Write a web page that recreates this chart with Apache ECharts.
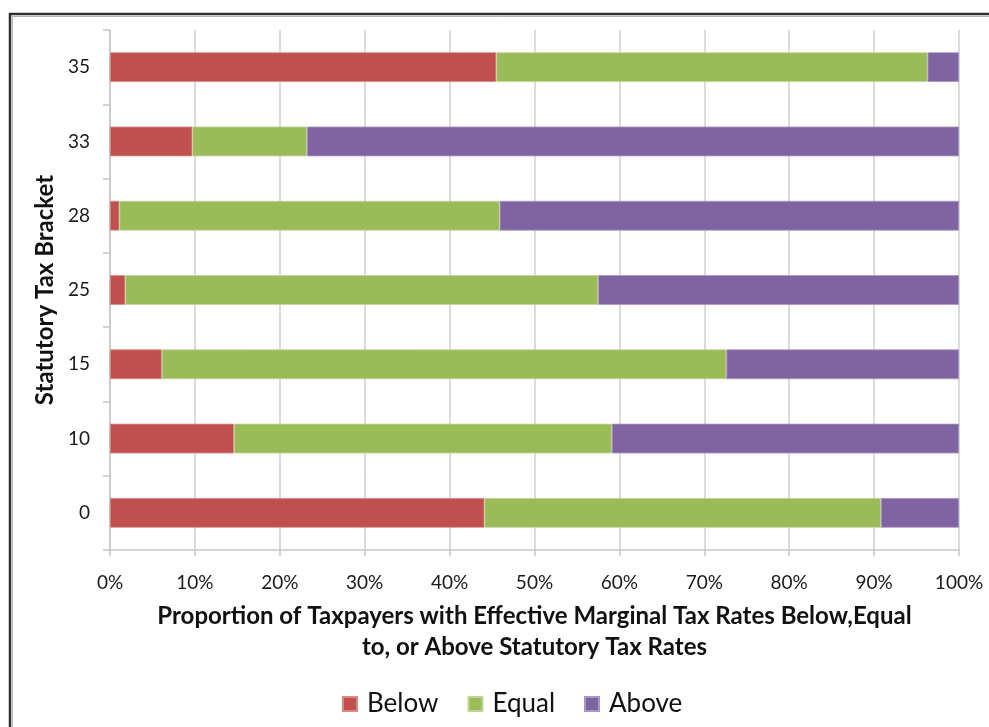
<!DOCTYPE html>
<html>
<head>
<meta charset="utf-8">
<script src="https://cdn.jsdelivr.net/npm/echarts@6/dist/echarts.min.js"></script>
<style>
  html, body { margin: 0; padding: 0; background: #ffffff; }
  #chart { width: 989px; height: 727px; }
</style>
</head>
<body>
<div id="chart"></div>
<script>
// Statutory brackets, bottom to top
const brackets = ['0', '10', '15', '25', '28', '33', '35'];

// Share of taxpayers (%) in each bracket
const below = [44.1, 14.6, 6.1, 1.8, 1.1, 9.7, 45.5];
const equal = [46.7, 44.5, 66.5, 55.7, 44.8, 13.5, 50.8];
const above = [9.2, 40.9, 27.4, 42.5, 54.1, 76.8, 3.7];

const seriesNames = ['Below', 'Equal', 'Above'];
const seriesColors = ['#C0504D', '#9BBB59', '#8064A2'];
const seriesBorders = ['#D78A88', '#BFD49A', '#A995C2'];

const xTickMin = 0;
const xTickMax = 100;
const xTickStep = 10;

const FONT = 'Lato, "Open Sans", sans-serif';

const chart = echarts.init(document.getElementById('chart'), null, { renderer: 'canvas' });

const makeSeries = (name, data, i) => ({
  name: name,
  type: 'bar',
  stack: 'total',
  data: data,
  barCategoryGap: '60%',
  itemStyle: {
    color: seriesColors[i],
    borderColor: seriesBorders[i],
    borderWidth: 0.8
  },
  emphasis: { disabled: true }
});

chart.setOption({
  backgroundColor: '#ffffff',
  animation: false,
  textStyle: { fontFamily: FONT },
  graphic: [
    {
      type: 'rect',
      silent: true,
      shape: { x: 10, y: 14, width: 1100, height: 900 },
      style: { fill: 'none', stroke: '#2e2e2e', lineWidth: 2.5 }
    },
    {
      type: 'rect',
      silent: true,
      shape: { x: 12.5, y: 16.5, width: 1100, height: 900 },
      style: { fill: 'none', stroke: '#b5b5b5', lineWidth: 1 }
    }
  ],
  grid: {
    left: 110,
    right: 30,
    top: 30,
    bottom: 177,
    containLabel: false
  },
  legend: {
    data: seriesNames,
    top: 686,
    left: 337,
    icon: 'rect',
    itemWidth: 14,
    itemHeight: 14,
    itemGap: 29,
    textStyle: { fontSize: 26, color: '#111', fontFamily: FONT, padding: [0, 0, 0, 5] }
  },
  xAxis: {
    type: 'value',
    min: xTickMin,
    max: xTickMax,
    interval: xTickStep,
    name: 'Proportion of Taxpayers with Effective Marginal Tax Rates Below,Equal\nto, or Above Statutory Tax Rates',
    nameLocation: 'middle',
    nameGap: 51,
    nameTextStyle: {
      fontSize: 24,
      fontWeight: 'bold',
      color: '#111',
      lineHeight: 31,
      fontFamily: FONT
    },
    axisLine: { show: true, lineStyle: { color: '#c6c6c6', width: 1.5 } },
    axisTick: { show: true, length: 6, lineStyle: { color: '#c6c6c6', width: 1.5 } },
    axisLabel: {
      formatter: '{value}%',
      fontSize: 19,
      color: '#1a1a1a',
      margin: 23,
      fontFamily: FONT
    },
    splitLine: { show: true, lineStyle: { color: '#cfcfcf', width: 1.5 } }
  },
  yAxis: {
    type: 'category',
    data: brackets,
    name: 'Statutory Tax Bracket',
    nameLocation: 'middle',
    nameGap: 52,
    nameRotate: 90,
    nameTextStyle: {
      fontSize: 24,
      fontWeight: 'bold',
      color: '#111',
      fontFamily: FONT
    },
    axisLine: { show: true, lineStyle: { color: '#c6c6c6', width: 1.5 } },
    axisTick: { show: true, length: 7, lineStyle: { color: '#c6c6c6', width: 1.5 } },
    axisLabel: {
      fontSize: 19,
      color: '#1a1a1a',
      margin: 20,
      fontFamily: FONT
    },
    splitLine: { show: false }
  },
  series: [
    makeSeries(seriesNames[0], below, 0),
    makeSeries(seriesNames[1], equal, 1),
    makeSeries(seriesNames[2], above, 2)
  ]
});
</script>
</body>
</html>
